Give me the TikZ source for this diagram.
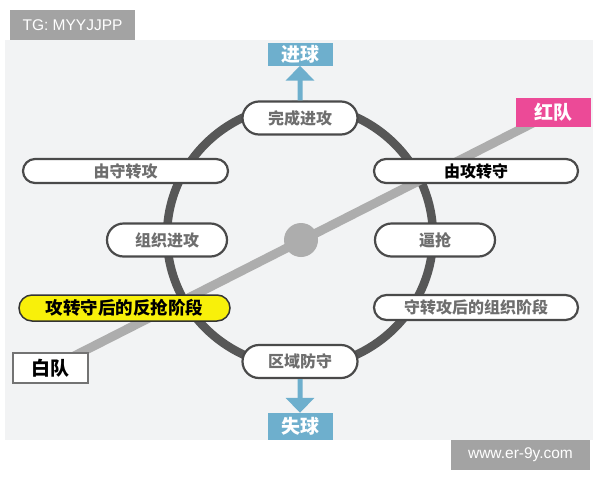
\documentclass[tikz,border=0pt]{standalone}
\usepackage{fontspec}
\setmainfont{Noto Sans CJK SC}
\newfontfamily\markfont{Liberation Sans}
\usepackage{tikz}
\usetikzlibrary{arrows.meta,shapes.misc}
\definecolor{panelgray}{HTML}{F2F3F4}
\definecolor{ringgray}{HTML}{575757}
\definecolor{linegray}{HTML}{ADADAD}
\definecolor{boxgray}{HTML}{4A4A4A}
\definecolor{textgray}{HTML}{6E6E6E}
\definecolor{goalblue}{HTML}{6EAFCD}
\definecolor{redteam}{HTML}{EC4A97}
\definecolor{markgray}{HTML}{A3A3A3}
\definecolor{hiyellow}{HTML}{F8F00A}
\pgfdeclarelayer{back}
\pgfsetlayers{back,main}
\tikzset{
    stage/.style={rounded rectangle, draw=boxgray, line width=2.2pt, fill=white, inner sep=0pt,
        text=textgray, font=\fontsize{16}{16}\selectfont\bfseries},
    keystage/.style={stage, text=black},
    goal/.style={fill=goalblue, text=white, inner sep=0pt, minimum width=65pt,
        font=\fontsize{19}{19}\selectfont\bfseries},
    team/.style={inner sep=0pt, minimum width=75pt, minimum height=29pt,
        font=\fontsize{19}{19}\selectfont\bfseries},
    goalarrow/.style={draw=goalblue, line width=5pt, -{Triangle[width=28pt,length=15pt]}},
    watermark/.style={fill=markgray, text=white, inner sep=0pt, minimum height=30pt,
        font=\markfont\fontsize{15.5}{15.5}\selectfont}
}
\begin{document}
\begin{tikzpicture}[x=1pt, y=-1pt]
    \useasboundingbox (0,0) rectangle (600,480);
    \node [watermark, minimum width=125pt] (tg) at (72.5,25) {TG: MYYJJPP};
    \node [watermark, minimum width=139pt] (site) at (520.5,455) {www.er-9y.com};

    \node [stage, minimum width=115pt, minimum height=33pt] (wancheng) at (300,118) {完成进攻};
    \node [stage, minimum width=205pt, minimum height=24pt] (shouzhuangong) at (125.5,171) {由守转攻};
    \node [keystage, minimum width=204pt, minimum height=24pt] (gongzhuanshou) at (476,171) {由攻转守};
    \node [stage, minimum width=120pt, minimum height=33pt] (zuzhi) at (167,240) {组织进攻};
    \node [stage, minimum width=120pt, minimum height=33pt] (biqiang) at (435,240) {逼抢};
    \node [keystage, fill=hiyellow, draw=black!80, line width=1.5pt, minimum width=211pt, minimum height=26pt,
        font=\fontsize{17.5}{17.5}\selectfont\bfseries] (fanqiang) at (124.5,308) {攻转守后的反抢阶段};
    \node [stage, minimum width=204pt, minimum height=25pt] (zuzhijieduan) at (476,307.5) {守转攻后的组织阶段};
    \node [stage, minimum width=115pt, minimum height=33pt] (quyu) at (300,361.5) {区域防守};

    \node [goal, minimum height=23pt] (jinqiu) at (300,54) {进球};
    \node [goal, minimum height=27pt] (shiqiu) at (300,426.5) {失球};
    \node [team, fill=redteam, text=white] (hongdui) at (553.5,112.5) {红队};
    \node [team, fill=white, draw=black!55, line width=1.5pt, minimum height=30pt] (baidui) at (50.5,368) {白队};

    \draw [goalarrow] (wancheng) -- (jinqiu);
    \draw [goalarrow] (quyu) -- (shiqiu);

    \begin{pgfonlayer}{back}
        \fill [panelgray] (5,40) rectangle (593,440);
        \draw [ringgray, line width=8.5pt] (300,236) ellipse [x radius=133pt, y radius=131pt];
        \draw [linegray, line width=9pt] (baidui.center) -- (hongdui.center);
        \fill [linegray] (301,240) circle [radius=17pt];
    \end{pgfonlayer}
\end{tikzpicture}
\end{document}
